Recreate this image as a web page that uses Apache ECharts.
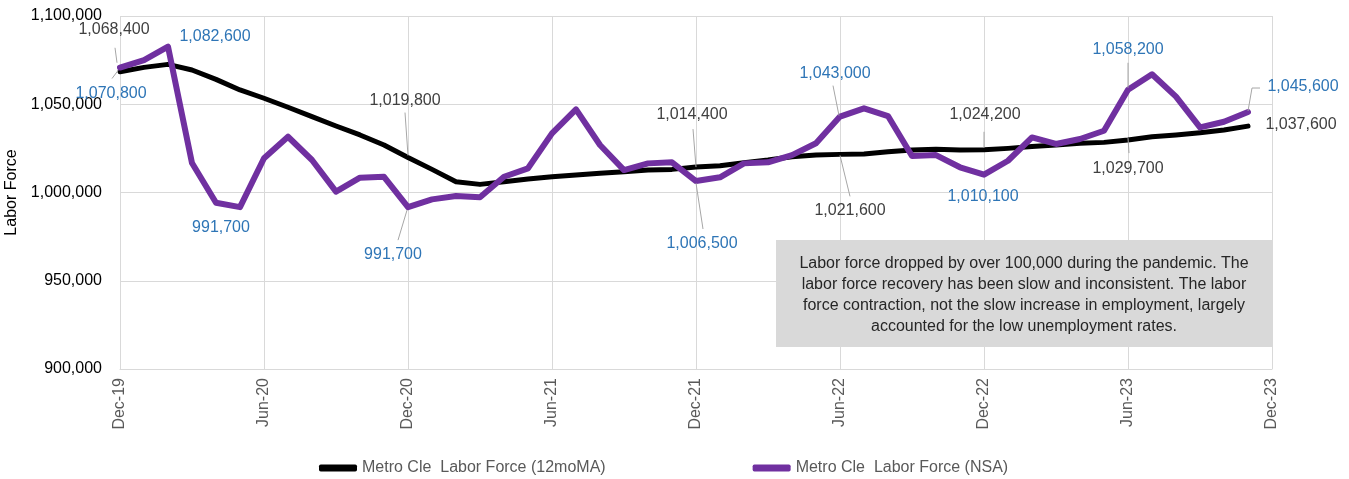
<!DOCTYPE html>
<html>
<head>
<meta charset="utf-8">
<script src="https://cdn.jsdelivr.net/npm/echarts@6/dist/echarts.min.js"></script>
<style>
  html, body { margin: 0; padding: 0; background: #fff; }
  #chart { width: 1349px; height: 479px; }
</style>
</head>
<body>
<div id="chart"></div>
<script>
// monthly categories, Dec-19 .. Dec-23
const months = [
  'Dec-19', 'Jan-20', 'Feb-20', 'Mar-20', 'Apr-20', 'May-20', 'Jun-20', 'Jul-20', 'Aug-20', 'Sep-20', 'Oct-20', 'Nov-20',
  'Dec-20', 'Jan-21', 'Feb-21', 'Mar-21', 'Apr-21', 'May-21', 'Jun-21', 'Jul-21', 'Aug-21', 'Sep-21', 'Oct-21', 'Nov-21',
  'Dec-21', 'Jan-22', 'Feb-22', 'Mar-22', 'Apr-22', 'May-22', 'Jun-22', 'Jul-22', 'Aug-22', 'Sep-22', 'Oct-22', 'Nov-22',
  'Dec-22', 'Jan-23', 'Feb-23', 'Mar-23', 'Apr-23', 'May-23', 'Jun-23', 'Jul-23', 'Aug-23', 'Sep-23', 'Oct-23', 'Nov-23',
  'Dec-23'
]

// 12 month moving average
const laborForceMA = [
  1068400, 1070900, 1072600, 1069400, 1064100, 1058100, 1053400, 1048300, 1043000, 1037700, 1032600, 1026900,
  1019800, 1013100, 1006100, 1004600, 1006100, 1007600, 1008900, 1009900, 1010900, 1011800, 1012700, 1013100,
  1014400, 1015200, 1016900, 1018400, 1020300, 1021200, 1021600, 1021800, 1023100, 1024100, 1024500, 1024100,
  1024200, 1025000, 1026000, 1026900, 1027900, 1028400, 1029700, 1031600, 1032600, 1033900, 1035400, 1037600
]

// not seasonally adjusted
const laborForceNSA = [
  1070800, 1075000, 1082600, 1016700, 994200, 991700, 1019400, 1031600, 1018400, 1000500, 1008400, 1008900,
  991700, 996100, 998000, 997300, 1008900, 1013700, 1033500, 1047100, 1026900, 1012700, 1016500, 1017100,
  1006500, 1008600, 1016500, 1017100, 1021200, 1027900, 1043000, 1047700, 1043300, 1020700, 1021200, 1014300,
  1010100, 1018000, 1031200, 1027500, 1030300, 1035000, 1058200, 1067000, 1054300, 1036900, 1040100, 1045600
]

const yTicks = [900000, 950000, 1000000, 1050000, 1100000]

// callouts: month index, which series, label offset, leader line (offsets from the point)
const callouts = [
  { i: 0, s: 'ma', dx: -6, dy: -42, line: [[-5, -24], [-3, -9]] },
  { i: 0, s: 'nsa', dx: -9, dy: 26, line: [[-2, 3], [-8, 11]] },
  { i: 2, s: 'nsa', dx: 47, dy: -10 },
  { i: 5, s: 'nsa', dx: -19, dy: 20 },
  { i: 12, s: 'ma', dx: -3, dy: -57, line: [[-3, -45], [0, -2]] },
  { i: 12, s: 'nsa', dx: -15, dy: 47, line: [[-1, 3], [-10, 33]] },
  { i: 24, s: 'ma', dx: -4, dy: -52, line: [[-3, -38], [0, 0]] },
  { i: 24, s: 'nsa', dx: 6, dy: 63, line: [[0, 2], [7, 48]] },
  { i: 30, s: 'nsa', dx: -5, dy: -43, line: [[-7, -31], [-1, -1]] },
  { i: 30, s: 'ma', dx: 10, dy: 56, line: [[0, 1], [10, 42]] },
  { i: 36, s: 'ma', dx: 1, dy: -35, line: [[0, -18], [0, -2]] },
  { i: 36, s: 'nsa', dx: -1, dy: 22 },
  { i: 42, s: 'nsa', dx: 0, dy: -40, line: [[0, -27], [0, -2]] },
  { i: 42, s: 'ma', dx: 0, dy: 29, line: [[0, -2], [1, 13]] },
  { i: 47, s: 'nsa', dx: 55, dy: -25, line: [[0, -1], [4, -24], [12, -24]] },
  { i: 47, s: 'ma', dx: 53, dy: -2 }
]

const noteLines = [
  'Labor force dropped by over 100,000 during the pandemic. The',
  'labor force recovery has been slow and inconsistent. The labor',
  'force contraction, not the slow increase in employment, largely',
  'accounted for the low unemployment rates.'
]

const FONT = '"Liberation Sans", Arial, sans-serif'
const fmt = v => Math.round(v).toLocaleString('en-US')

const calloutData = callouts.map((c, k) => {
  const v = c.s === 'ma' ? laborForceMA[c.i] : laborForceNSA[c.i]
  return [c.i, v, k]
})

const chart = echarts.init(document.getElementById('chart'))

const option = {
  animation: false,
  grid: { left: 120, right: 77, top: 16, bottom: 110, outerBoundsMode: 'none' },
  legend: {
    data: ['Metro Cle  Labor Force (12moMA)', 'Metro Cle  Labor Force (NSA)'],
    left: 314,
    top: 455,
    icon: 'roundRect',
    itemWidth: 38,
    itemHeight: 7,
    itemGap: 147,
    textStyle: { fontFamily: FONT, fontSize: 16, color: '#595959' }
  },
  xAxis: {
    type: 'category',
    data: months,
    boundaryGap: false,
    axisLine: { lineStyle: { color: '#d9d9d9', width: 1 } },
    axisTick: { show: false },
    axisLabel: {
      interval: 5,
      rotate: 90,
      margin: 9,
      fontFamily: FONT,
      fontSize: 16,
      color: '#595959'
    },
    splitLine: { show: true, interval: 5, lineStyle: { color: '#d9d9d9', width: 1 } }
  },
  yAxis: {
    type: 'value',
    min: yTicks[0],
    max: yTicks[yTicks.length - 1],
    interval: 50000,
    name: 'Labor Force',
    nameLocation: 'middle',
    nameGap: 92,
    nameRotate: 90,
    nameTextStyle: { fontFamily: FONT, fontSize: 16, color: '#000' },
    axisLine: { show: false },
    axisTick: { show: false },
    axisLabel: {
      fontFamily: FONT,
      fontSize: 16,
      color: '#000',
      margin: 18,
      formatter: v => fmt(v)
    },
    splitLine: { lineStyle: { color: '#d9d9d9', width: 1 } }
  },
  series: [
    {
      name: 'Metro Cle  Labor Force (12moMA)',
      type: 'line',
      data: laborForceMA,
      showSymbol: false,
      color: '#000000',
      lineStyle: { width: 5, color: '#000000', cap: 'round', join: 'round' }
    },
    {
      name: 'Metro Cle  Labor Force (NSA)',
      type: 'line',
      data: laborForceNSA,
      showSymbol: false,
      color: '#7030a0',
      lineStyle: { width: 6, color: '#7030a0', cap: 'round', join: 'round' }
    },
    {
      name: 'callouts',
      type: 'custom',
      data: calloutData,
      z: 10,
      silent: true,
      renderItem: (params, api) => {
        const c = callouts[api.value(2)]
        const pt = api.coord([api.value(0), api.value(1)])
        const children = []
        if (c.line) {
          children.push({
            type: 'polyline',
            shape: { points: c.line.map(p => [pt[0] + p[0], pt[1] + p[1]]) },
            style: { stroke: '#a6a6a6', lineWidth: 1, fill: null }
          })
        }
        children.push({
          type: 'text',
          x: pt[0] + c.dx,
          y: pt[1] + c.dy,
          style: {
            text: fmt(api.value(1)),
            fill: c.s === 'ma' ? '#404040' : '#2e75b6',
            font: '16px ' + FONT,
            align: 'center',
            verticalAlign: 'middle'
          }
        })
        return { type: 'group', children }
      }
    }
  ],
  graphic: [
    {
      type: 'group',
      left: 776,
      top: 240,
      z: 100,
      children: [
        {
          type: 'rect',
          z: 100,
          shape: { x: 0, y: 0, width: 496, height: 107 },
          style: { fill: '#d9d9d9' }
        },
        {
          type: 'text',
          z: 101,
          x: 248,
          y: 13,
          style: {
            text: noteLines.join('\n'),
            fill: '#262626',
            font: '16px ' + FONT,
            lineHeight: 21,
            align: 'center',
            verticalAlign: 'top'
          }
        }
      ]
    }
  ]
}

chart.setOption(option)
</script>
</body>
</html>
